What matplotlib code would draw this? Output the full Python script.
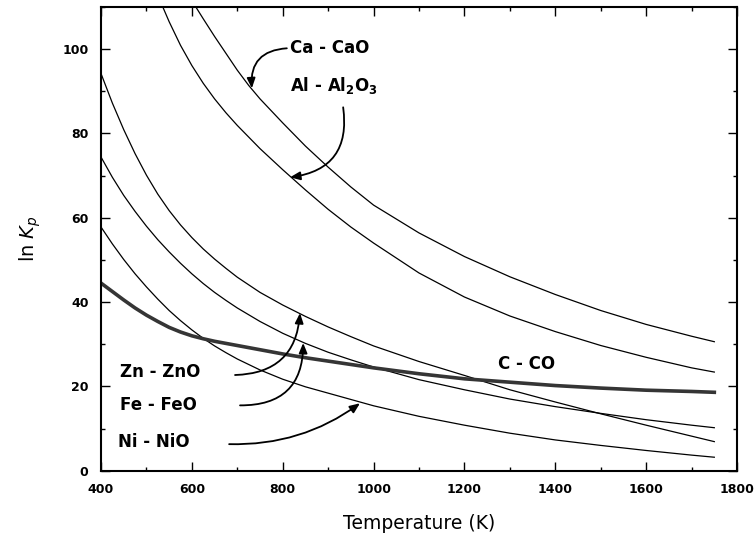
import matplotlib
matplotlib.use('Agg')
import matplotlib.pyplot as plt
from matplotlib.ticker import MultipleLocator

# ln Kp, per reaction
t_ca = [600, 625, 650, 675, 700, 725, 750, 800, 850, 900, 950, 1000, 1100, 1200, 1300,
        1400, 1500, 1600, 1700, 1750]
ln_ca = [111.5, 107.2, 103.0, 99.0, 95.0, 91.4, 88.2, 82.5, 77.0, 72.0, 67.3, 63.0, 56.4,
         50.8, 46.0, 41.8, 38.0, 34.7, 31.9, 30.6]

t_al = [530, 550, 575, 600, 625, 650, 675, 700, 750, 800, 850, 900, 950, 1000, 1100, 1200,
        1300, 1400, 1500, 1600, 1700, 1750]
ln_al = [111.5, 106.5, 100.9, 96.1, 91.9, 88.2, 84.9, 81.9, 76.4, 71.4, 66.6, 62.0, 57.8,
         54.0, 46.9, 41.2, 36.7, 33.0, 29.7, 26.9, 24.4, 23.4]

t_low = [400, 425, 450, 475, 500, 525, 550, 575, 600, 625, 650, 675, 700, 750, 800, 850,
         900, 950, 1000, 1100, 1200, 1300, 1400, 1500, 1600, 1700, 1750]
ln_zn = [94.2, 87.2, 80.9, 75.2, 70.1, 65.6, 61.7, 58.3, 55.3, 52.6, 50.2, 48.0, 45.9, 42.3,
         39.3, 36.6, 34.1, 31.8, 29.6, 25.9, 22.6, 19.2, 16.3, 13.5, 10.8, 8.2, 6.9]
ln_fe = [74.4, 69.6, 65.3, 61.5, 58.0, 54.8, 51.9, 49.2, 46.7, 44.4, 42.3, 40.4, 38.6, 35.4,
         32.6, 30.2, 28.1, 26.3, 24.6, 21.6, 19.2, 17.0, 15.2, 13.6, 12.1, 10.8, 10.2]
ln_ni = [57.8, 53.8, 50.1, 46.7, 43.6, 40.7, 38.0, 35.6, 33.4, 31.4, 29.6, 28.0, 26.5, 23.9,
         21.7, 19.9, 18.4, 16.9, 15.4, 12.9, 10.8, 8.9, 7.3, 6.0, 4.8, 3.7, 3.2]
ln_cco = [44.5, 42.5, 40.5, 38.6, 36.9, 35.4, 34.0, 32.9, 32.0, 31.3, 30.7, 30.2, 29.7, 28.7,
          27.7, 26.8, 26.0, 25.2, 24.4, 23.0, 21.8, 21.0, 20.2, 19.6, 19.1, 18.8, 18.6]

fig = plt.figure(figsize=(7.55, 5.45), dpi=100)
ax = fig.add_axes([0.1338, 0.1363, 0.8424, 0.8509])

thin = dict(color='black', linewidth=0.9)
ax.plot(t_ca, ln_ca, **thin)
ax.plot(t_al, ln_al, **thin)
ax.plot(t_low, ln_zn, **thin)
ax.plot(t_low, ln_fe, **thin)
ax.plot(t_low, ln_ni, **thin)
ax.plot(t_low, ln_cco, color='#353535', linewidth=2.6)

ax.set_xlim(400, 1800)
ax.set_ylim(0, 110)
ax.xaxis.set_major_locator(MultipleLocator(200))
ax.xaxis.set_minor_locator(MultipleLocator(100))
ax.yaxis.set_major_locator(MultipleLocator(20))
ax.yaxis.set_minor_locator(MultipleLocator(10))
ax.tick_params(which='both', direction='in', top=True, right=True, width=1)
ax.tick_params(which='major', length=6.5)
ax.tick_params(which='minor', length=3)
ax.tick_params(axis='x', pad=9)
ax.tick_params(axis='y', pad=9)
for lab in ax.get_xticklabels() + ax.get_yticklabels():
    lab.set_fontweight('bold')
    lab.set_fontsize(9)
for sp in ax.spines.values():
    sp.set_linewidth(1.5)

ax.set_xlabel('Temperature (K)', fontsize=13.5, labelpad=13)
ax.set_ylabel(r'ln $K_p$', fontsize=14, labelpad=14)

# curve labels
lab_kw = dict(fontsize=12, fontweight='bold', va='center', ha='left')
ax.text(816, 100.2, 'Ca - CaO', **lab_kw)
ax.text(816, 91.4, r'Al - Al$_\mathbf{2}$O$_\mathbf{3}$', **lab_kw)
ax.text(442, 23.5, 'Zn - ZnO', **lab_kw)
ax.text(442, 15.6, 'Fe - FeO', **lab_kw)
ax.text(437, 6.9, 'Ni - NiO', **lab_kw)
ax.text(1274, 25.4, 'C - CO', **lab_kw)

# curved pointers: (tip, start, curvature)
arrows = [
    ((732, 90.7), (809, 100.2), 0.5),
    ((816, 69.6), (933, 86.2), -0.5),
    ((838, 37.4), (695, 22.7), 0.45),
    ((845, 30.3), (706, 15.5), 0.5),
    ((970, 16.0), (682, 6.3), 0.17),
]
for tip, start, rad in arrows:
    ax.annotate('', xy=tip, xytext=start,
                arrowprops=dict(arrowstyle='-|>,head_length=0.6,head_width=0.25',
                                color='black', linewidth=1.3,
                                shrinkA=0, shrinkB=0,
                                connectionstyle='arc3,rad=%s' % rad))

plt.savefig('out.png')
